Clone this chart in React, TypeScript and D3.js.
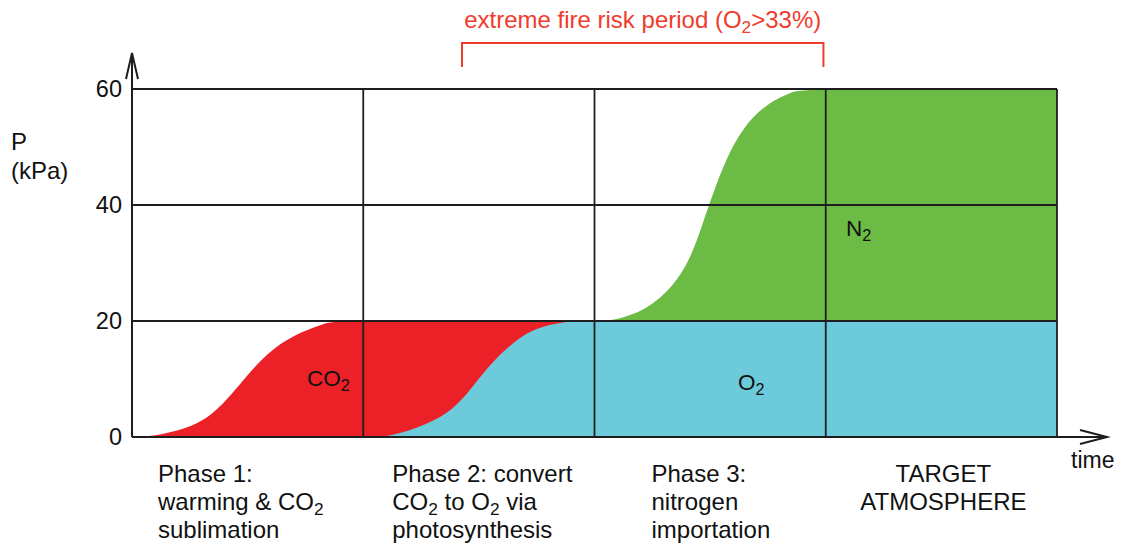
import React from "react";
import * as d3 from "d3";

// ---- data (time in phase units, pressure in kPa) ----
const phaseTicks = [0, 1, 2, 3, 4];
const pressureTicks = [0, 20, 40, 60];

// CO2 (stacked on top of O2: total of CO2 + O2 until end of phase 2)
const co2Time = [0, 0.078, 0.294, 0.411, 0.48, 0.584, 0.696, 0.843, 0.87, 2];
const co2Total = [0, 0, 1.9, 6.4, 9.8, 14.5, 17.6, 19.7, 20, 20];

// O2
const o2Time = [1, 1.116, 1.276, 1.388, 1.462, 1.535, 1.622, 1.734, 1.881, 1.937, 4];
const o2Values = [0, 0, 2.1, 4.7, 8.1, 11.9, 15.5, 18.8, 19.9, 20, 20];

// N2 (stacked on top of 20 kPa O2)
const n2Base = 20;
const n2Time = [2, 2.08, 2.227, 2.339, 2.413, 2.469, 2.512, 2.573, 2.642, 2.746, 2.858, 2.889, 4];
const n2Values = [0, 0, 1.9, 5.9, 10.5, 16.9, 22, 28.3, 33.4, 37.6, 39.5, 40, 40];

const phaseLabels = [
  ["Phase 1:", "warming & CO_2", "sublimation"],
  ["Phase 2: convert", "CO_2 to O_2 via", "photosynthesis"],
  ["Phase 3:", "nitrogen", "importation"],
  ["TARGET", "ATMOSPHERE"],
];

const fireRiskLabel = "extreme fire risk period (O_2>33%)";
const fireRiskStart = 1.427;
const fireRiskEnd = 2.99;

const COLORS = {
  co2: "#ec2027",
  o2: "#6dcadb",
  n2: "#6bbb45",
  grid: "#1e1e1e",
  text: "#111111",
  risk: "#ef3b2c",
};

const FONT = "'Liberation Sans', Arial, Helvetica, sans-serif";

function SubText({ s, subSize = "0.72em", dy = 5, ...rest }: any) {
  const parts = s.split(/_(\d)/);
  const out: any[] = [];
  let shifted = false;
  parts.forEach((p: string, i: number) => {
    if (i % 2 === 1) {
      out.push(
        <tspan key={i} dy={dy} fontSize={subSize}>
          {p}
        </tspan>
      );
      shifted = true;
    } else if (p.length) {
      out.push(
        <tspan key={i} dy={shifted ? -dy : 0}>
          {p}
        </tspan>
      );
      shifted = false;
    }
  });
  return <text {...rest}>{out}</text>;
}

export default function App() {
  const W = 1127;
  const H = 546;
  const x = d3.scaleLinear().domain([0, 4]).range([132, 1057]);
  const y = d3.scaleLinear().domain([0, 60]).range([437, 89]);
  const curve = d3.curveBasis;

  const co2Area = d3
    .area<number>()
    .x((_, i) => x(co2Time[i]))
    .y0(() => y(0))
    .y1((d) => y(d))
    .curve(curve)(co2Total);

  const o2Area = d3
    .area<number>()
    .x((_, i) => x(o2Time[i]))
    .y0(() => y(0))
    .y1((d) => y(d))
    .curve(curve)(o2Values);

  const n2Area = d3
    .area<number>()
    .x((_, i) => x(n2Time[i]))
    .y0(() => y(n2Base))
    .y1((d) => y(n2Base + d))
    .curve(curve)(n2Values);

  const x0 = x(0);
  const x4 = x(4);
  const y0 = y(0);
  const yTop = y(60);

  const labelOffsets = [26, 29, 57];
  const lineH = 28;

  return (
    <svg
      width={W}
      height={H}
      style={{ position: "absolute", left: 0, top: 0, background: "#fff" }}
      fontFamily={FONT}
    >
      <rect width={W} height={H} fill="#fff" />
      <path d={co2Area || ""} fill={COLORS.co2} />
      <path d={o2Area || ""} fill={COLORS.o2} />
      <path d={n2Area || ""} fill={COLORS.n2} />

      {/* grid */}
      {pressureTicks.map((t) => (
        <line key={"h" + t} x1={x0} x2={x4} y1={y(t)} y2={y(t)} stroke={COLORS.grid} strokeWidth={1.8} />
      ))}
      {phaseTicks.map((t) => (
        <line key={"v" + t} x1={x(t)} x2={x(t)} y1={yTop} y2={y0} stroke={COLORS.grid} strokeWidth={1.8} />
      ))}

      {/* axes with arrows */}
      <line x1={x0} x2={x0} y1={y0} y2={53} stroke={COLORS.grid} strokeWidth={2} />
      <polyline points={`${x0 - 6},79 ${x0},53 ${x0 + 6},79`} fill="none" stroke={COLORS.grid} strokeWidth={2} />
      <line x1={x0} x2={1107} y1={y0} y2={y0} stroke={COLORS.grid} strokeWidth={2} />
      <polyline points={`1080,430 1107,${y0} 1080,444`} fill="none" stroke={COLORS.grid} strokeWidth={2} />

      {/* y tick labels */}
      {pressureTicks.map((t) => (
        <text key={"yl" + t} x={122} y={y(t) + 8} textAnchor="end" fontSize={23.5} fill={COLORS.text}>
          {t}
        </text>
      ))}
      <text x={11} y={150} fontSize={24} fill={COLORS.text}>P</text>
      <text x={11} y={179} fontSize={24} fill={COLORS.text}>(kPa)</text>
      <text x={1071} y={468} fontSize={23} fill={COLORS.text}>time</text>

      {/* series labels */}
      <SubText s="CO_2" x={307} y={386} fontSize={22.5} fill={COLORS.text} />
      <SubText s="O_2" x={738} y={390} fontSize={22.5} fill={COLORS.text} />
      <SubText s="N_2" x={846} y={236} fontSize={22.5} fill={COLORS.text} />

      {/* phase labels */}
      {phaseLabels.map((lines, i) =>
        lines.map((ln, j) =>
          i < 3 ? (
            <SubText
              key={i + "-" + j}
              s={ln}
              x={x(i) + labelOffsets[i]}
              y={482 + j * lineH}
              fontSize={24}
              fill={COLORS.text}
            />
          ) : (
            <SubText
              key={i + "-" + j}
              s={ln}
              x={(x(3) + x(4)) / 2 + 2}
              y={482 + j * lineH}
              fontSize={24}
              fill={COLORS.text}
              textAnchor="middle"
            />
          )
        )
      )}

      {/* fire risk bracket */}
      <polyline
        points={`${x(fireRiskStart)},67 ${x(fireRiskStart)},43 ${x(fireRiskEnd)},43 ${x(fireRiskEnd)},67`}
        fill="none"
        stroke={COLORS.risk}
        strokeWidth={2}
      />
      <SubText
        s={fireRiskLabel}
        x={(x(fireRiskStart) + x(fireRiskEnd)) / 2}
        y={28}
        fontSize={24}
        fill={COLORS.risk}
        textAnchor="middle"
      />
    </svg>
  );
}
